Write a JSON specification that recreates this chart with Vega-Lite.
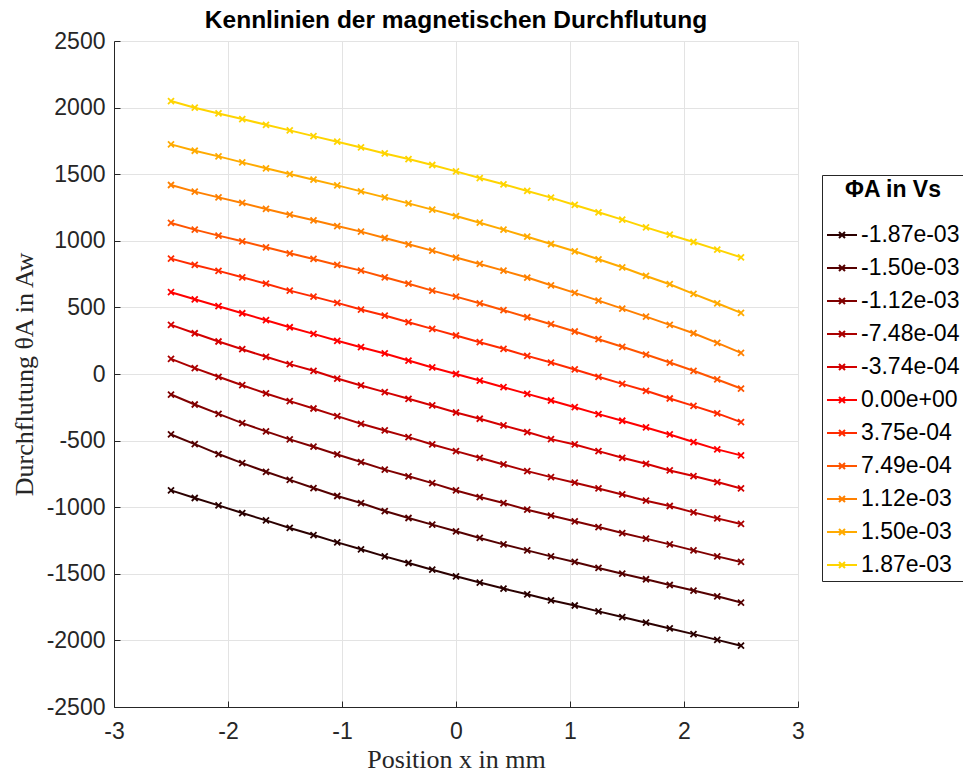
{
"$schema": "https://vega.github.io/schema/vega-lite/v6.json",
"width": 684, "height": 666,
"autosize": "none",
"padding": {"left": 114, "top": 41, "right": 165, "bottom": 68},
"background": "white",
"title": {"text": "Kennlinien der magnetischen Durchflutung", "font": "Liberation Sans", "fontSize": 24.5, "fontWeight": "bold", "color": "black", "anchor": "middle", "frame": "group", "offset": -3},
"config": {
  "view": {"stroke": null},
  "axis": {"gridColor": "#e3e3e3", "gridWidth": 1, "domainColor": "#262626", "domainWidth": 1, "tickColor": "#262626", "tickSize": -6, "labelFlush": false, "labelFont": "Liberation Sans", "labelFontSize": 23, "labelColor": "#262626", "labelExpr": "'' + datum.value", "titleFont": "Liberation Serif", "titleFontWeight": "normal", "titleColor": "#262626"}
},
"data": {"values": [
{"p":"-1.87e-03","x":-2.5,"y":-874},{"p":"-1.87e-03","x":-2.2917,"y":-931},{"p":"-1.87e-03","x":-2.0833,"y":-986},{"p":"-1.87e-03","x":-1.875,"y":-1044},{"p":"-1.87e-03","x":-1.6667,"y":-1099},{"p":"-1.87e-03","x":-1.4583,"y":-1156},{"p":"-1.87e-03","x":-1.25,"y":-1209},{"p":"-1.87e-03","x":-1.0417,"y":-1264},{"p":"-1.87e-03","x":-0.8333,"y":-1316},{"p":"-1.87e-03","x":-0.625,"y":-1369},{"p":"-1.87e-03","x":-0.4167,"y":-1419},{"p":"-1.87e-03","x":-0.2083,"y":-1469},{"p":"-1.87e-03","x":0,"y":-1519},{"p":"-1.87e-03","x":0.2083,"y":-1566},{"p":"-1.87e-03","x":0.4167,"y":-1611},{"p":"-1.87e-03","x":0.625,"y":-1654},{"p":"-1.87e-03","x":0.8333,"y":-1699},{"p":"-1.87e-03","x":1.0417,"y":-1738},{"p":"-1.87e-03","x":1.25,"y":-1782},{"p":"-1.87e-03","x":1.4583,"y":-1825},{"p":"-1.87e-03","x":1.6667,"y":-1867},{"p":"-1.87e-03","x":1.875,"y":-1910},{"p":"-1.87e-03","x":2.0833,"y":-1953},{"p":"-1.87e-03","x":2.2917,"y":-1996},{"p":"-1.87e-03","x":2.5,"y":-2040},
{"p":"-1.50e-03","x":-2.5,"y":-454},{"p":"-1.50e-03","x":-2.2917,"y":-526},{"p":"-1.50e-03","x":-2.0833,"y":-601},{"p":"-1.50e-03","x":-1.875,"y":-669},{"p":"-1.50e-03","x":-1.6667,"y":-734},{"p":"-1.50e-03","x":-1.4583,"y":-795},{"p":"-1.50e-03","x":-1.25,"y":-856},{"p":"-1.50e-03","x":-1.0417,"y":-916},{"p":"-1.50e-03","x":-0.8333,"y":-969},{"p":"-1.50e-03","x":-0.625,"y":-1029},{"p":"-1.50e-03","x":-0.4167,"y":-1081},{"p":"-1.50e-03","x":-0.2083,"y":-1131},{"p":"-1.50e-03","x":0,"y":-1181},{"p":"-1.50e-03","x":0.2083,"y":-1231},{"p":"-1.50e-03","x":0.4167,"y":-1279},{"p":"-1.50e-03","x":0.625,"y":-1324},{"p":"-1.50e-03","x":0.8333,"y":-1369},{"p":"-1.50e-03","x":1.0417,"y":-1411},{"p":"-1.50e-03","x":1.25,"y":-1456},{"p":"-1.50e-03","x":1.4583,"y":-1499},{"p":"-1.50e-03","x":1.6667,"y":-1541},{"p":"-1.50e-03","x":1.875,"y":-1584},{"p":"-1.50e-03","x":2.0833,"y":-1626},{"p":"-1.50e-03","x":2.2917,"y":-1669},{"p":"-1.50e-03","x":2.5,"y":-1716},
{"p":"-1.12e-03","x":-2.5,"y":-154},{"p":"-1.12e-03","x":-2.2917,"y":-229},{"p":"-1.12e-03","x":-2.0833,"y":-299},{"p":"-1.12e-03","x":-1.875,"y":-369},{"p":"-1.12e-03","x":-1.6667,"y":-431},{"p":"-1.12e-03","x":-1.4583,"y":-491},{"p":"-1.12e-03","x":-1.25,"y":-546},{"p":"-1.12e-03","x":-1.0417,"y":-604},{"p":"-1.12e-03","x":-0.8333,"y":-661},{"p":"-1.12e-03","x":-0.625,"y":-718},{"p":"-1.12e-03","x":-0.4167,"y":-768},{"p":"-1.12e-03","x":-0.2083,"y":-819},{"p":"-1.12e-03","x":0,"y":-874},{"p":"-1.12e-03","x":0.2083,"y":-924},{"p":"-1.12e-03","x":0.4167,"y":-969},{"p":"-1.12e-03","x":0.625,"y":-1019},{"p":"-1.12e-03","x":0.8333,"y":-1063},{"p":"-1.12e-03","x":1.0417,"y":-1106},{"p":"-1.12e-03","x":1.25,"y":-1149},{"p":"-1.12e-03","x":1.4583,"y":-1194},{"p":"-1.12e-03","x":1.6667,"y":-1236},{"p":"-1.12e-03","x":1.875,"y":-1279},{"p":"-1.12e-03","x":2.0833,"y":-1324},{"p":"-1.12e-03","x":2.2917,"y":-1369},{"p":"-1.12e-03","x":2.5,"y":-1411},
{"p":"-7.48e-04","x":-2.5,"y":114},{"p":"-7.48e-04","x":-2.2917,"y":44},{"p":"-7.48e-04","x":-2.0833,"y":-21},{"p":"-7.48e-04","x":-1.875,"y":-84},{"p":"-7.48e-04","x":-1.6667,"y":-146},{"p":"-7.48e-04","x":-1.4583,"y":-204},{"p":"-7.48e-04","x":-1.25,"y":-259},{"p":"-7.48e-04","x":-1.0417,"y":-316},{"p":"-7.48e-04","x":-0.8333,"y":-374},{"p":"-7.48e-04","x":-0.625,"y":-424},{"p":"-7.48e-04","x":-0.4167,"y":-474},{"p":"-7.48e-04","x":-0.2083,"y":-529},{"p":"-7.48e-04","x":0,"y":-579},{"p":"-7.48e-04","x":0.2083,"y":-629},{"p":"-7.48e-04","x":0.4167,"y":-679},{"p":"-7.48e-04","x":0.625,"y":-729},{"p":"-7.48e-04","x":0.8333,"y":-774},{"p":"-7.48e-04","x":1.0417,"y":-816},{"p":"-7.48e-04","x":1.25,"y":-859},{"p":"-7.48e-04","x":1.4583,"y":-904},{"p":"-7.48e-04","x":1.6667,"y":-951},{"p":"-7.48e-04","x":1.875,"y":-991},{"p":"-7.48e-04","x":2.0833,"y":-1039},{"p":"-7.48e-04","x":2.2917,"y":-1084},{"p":"-7.48e-04","x":2.5,"y":-1126},
{"p":"-3.74e-04","x":-2.5,"y":369},{"p":"-3.74e-04","x":-2.2917,"y":306},{"p":"-3.74e-04","x":-2.0833,"y":244},{"p":"-3.74e-04","x":-1.875,"y":186},{"p":"-3.74e-04","x":-1.6667,"y":129},{"p":"-3.74e-04","x":-1.4583,"y":74},{"p":"-3.74e-04","x":-1.25,"y":24},{"p":"-3.74e-04","x":-1.0417,"y":-34},{"p":"-3.74e-04","x":-0.8333,"y":-86},{"p":"-3.74e-04","x":-0.625,"y":-136},{"p":"-3.74e-04","x":-0.4167,"y":-186},{"p":"-3.74e-04","x":-0.2083,"y":-236},{"p":"-3.74e-04","x":0,"y":-289},{"p":"-3.74e-04","x":0.2083,"y":-336},{"p":"-3.74e-04","x":0.4167,"y":-386},{"p":"-3.74e-04","x":0.625,"y":-436},{"p":"-3.74e-04","x":0.8333,"y":-489},{"p":"-3.74e-04","x":1.0417,"y":-529},{"p":"-3.74e-04","x":1.25,"y":-579},{"p":"-3.74e-04","x":1.4583,"y":-629},{"p":"-3.74e-04","x":1.6667,"y":-674},{"p":"-3.74e-04","x":1.875,"y":-724},{"p":"-3.74e-04","x":2.0833,"y":-766},{"p":"-3.74e-04","x":2.2917,"y":-811},{"p":"-3.74e-04","x":2.5,"y":-859},
{"p":"0.00e+00","x":-2.5,"y":614},{"p":"0.00e+00","x":-2.2917,"y":561},{"p":"0.00e+00","x":-2.0833,"y":509},{"p":"0.00e+00","x":-1.875,"y":456},{"p":"0.00e+00","x":-1.6667,"y":404},{"p":"0.00e+00","x":-1.4583,"y":351},{"p":"0.00e+00","x":-1.25,"y":301},{"p":"0.00e+00","x":-1.0417,"y":249},{"p":"0.00e+00","x":-0.8333,"y":201},{"p":"0.00e+00","x":-0.625,"y":154},{"p":"0.00e+00","x":-0.4167,"y":101},{"p":"0.00e+00","x":-0.2083,"y":49},{"p":"0.00e+00","x":0,"y":0},{"p":"0.00e+00","x":0.2083,"y":-49},{"p":"0.00e+00","x":0.4167,"y":-99},{"p":"0.00e+00","x":0.625,"y":-149},{"p":"0.00e+00","x":0.8333,"y":-199},{"p":"0.00e+00","x":1.0417,"y":-249},{"p":"0.00e+00","x":1.25,"y":-301},{"p":"0.00e+00","x":1.4583,"y":-351},{"p":"0.00e+00","x":1.6667,"y":-401},{"p":"0.00e+00","x":1.875,"y":-454},{"p":"0.00e+00","x":2.0833,"y":-511},{"p":"0.00e+00","x":2.2917,"y":-566},{"p":"0.00e+00","x":2.5,"y":-611},
{"p":"3.75e-04","x":-2.5,"y":866},{"p":"3.75e-04","x":-2.2917,"y":819},{"p":"3.75e-04","x":-2.0833,"y":774},{"p":"3.75e-04","x":-1.875,"y":726},{"p":"3.75e-04","x":-1.6667,"y":678},{"p":"3.75e-04","x":-1.4583,"y":626},{"p":"3.75e-04","x":-1.25,"y":581},{"p":"3.75e-04","x":-1.0417,"y":534},{"p":"3.75e-04","x":-0.8333,"y":484},{"p":"3.75e-04","x":-0.625,"y":439},{"p":"3.75e-04","x":-0.4167,"y":389},{"p":"3.75e-04","x":-0.2083,"y":339},{"p":"3.75e-04","x":0,"y":289},{"p":"3.75e-04","x":0.2083,"y":239},{"p":"3.75e-04","x":0.4167,"y":189},{"p":"3.75e-04","x":0.625,"y":136},{"p":"3.75e-04","x":0.8333,"y":86},{"p":"3.75e-04","x":1.0417,"y":34},{"p":"3.75e-04","x":1.25,"y":-21},{"p":"3.75e-04","x":1.4583,"y":-74},{"p":"3.75e-04","x":1.6667,"y":-126},{"p":"3.75e-04","x":1.875,"y":-184},{"p":"3.75e-04","x":2.0833,"y":-239},{"p":"3.75e-04","x":2.2917,"y":-296},{"p":"3.75e-04","x":2.5,"y":-361},
{"p":"7.49e-04","x":-2.5,"y":1134},{"p":"7.49e-04","x":-2.2917,"y":1084},{"p":"7.49e-04","x":-2.0833,"y":1039},{"p":"7.49e-04","x":-1.875,"y":996},{"p":"7.49e-04","x":-1.6667,"y":951},{"p":"7.49e-04","x":-1.4583,"y":906},{"p":"7.49e-04","x":-1.25,"y":864},{"p":"7.49e-04","x":-1.0417,"y":819},{"p":"7.49e-04","x":-0.8333,"y":776},{"p":"7.49e-04","x":-0.625,"y":726},{"p":"7.49e-04","x":-0.4167,"y":678},{"p":"7.49e-04","x":-0.2083,"y":626},{"p":"7.49e-04","x":0,"y":581},{"p":"7.49e-04","x":0.2083,"y":531},{"p":"7.49e-04","x":0.4167,"y":479},{"p":"7.49e-04","x":0.625,"y":426},{"p":"7.49e-04","x":0.8333,"y":374},{"p":"7.49e-04","x":1.0417,"y":319},{"p":"7.49e-04","x":1.25,"y":261},{"p":"7.49e-04","x":1.4583,"y":204},{"p":"7.49e-04","x":1.6667,"y":146},{"p":"7.49e-04","x":1.875,"y":86},{"p":"7.49e-04","x":2.0833,"y":24},{"p":"7.49e-04","x":2.2917,"y":-41},{"p":"7.49e-04","x":2.5,"y":-109},
{"p":"1.12e-03","x":-2.5,"y":1419},{"p":"1.12e-03","x":-2.2917,"y":1369},{"p":"1.12e-03","x":-2.0833,"y":1326},{"p":"1.12e-03","x":-1.875,"y":1284},{"p":"1.12e-03","x":-1.6667,"y":1239},{"p":"1.12e-03","x":-1.4583,"y":1196},{"p":"1.12e-03","x":-1.25,"y":1154},{"p":"1.12e-03","x":-1.0417,"y":1111},{"p":"1.12e-03","x":-0.8333,"y":1069},{"p":"1.12e-03","x":-0.625,"y":1021},{"p":"1.12e-03","x":-0.4167,"y":974},{"p":"1.12e-03","x":-0.2083,"y":926},{"p":"1.12e-03","x":0,"y":874},{"p":"1.12e-03","x":0.2083,"y":826},{"p":"1.12e-03","x":0.4167,"y":776},{"p":"1.12e-03","x":0.625,"y":724},{"p":"1.12e-03","x":0.8333,"y":666},{"p":"1.12e-03","x":1.0417,"y":609},{"p":"1.12e-03","x":1.25,"y":551},{"p":"1.12e-03","x":1.4583,"y":491},{"p":"1.12e-03","x":1.6667,"y":431},{"p":"1.12e-03","x":1.875,"y":369},{"p":"1.12e-03","x":2.0833,"y":306},{"p":"1.12e-03","x":2.2917,"y":234},{"p":"1.12e-03","x":2.5,"y":159},
{"p":"1.50e-03","x":-2.5,"y":1724},{"p":"1.50e-03","x":-2.2917,"y":1676},{"p":"1.50e-03","x":-2.0833,"y":1634},{"p":"1.50e-03","x":-1.875,"y":1589},{"p":"1.50e-03","x":-1.6667,"y":1544},{"p":"1.50e-03","x":-1.4583,"y":1501},{"p":"1.50e-03","x":-1.25,"y":1459},{"p":"1.50e-03","x":-1.0417,"y":1416},{"p":"1.50e-03","x":-0.8333,"y":1371},{"p":"1.50e-03","x":-0.625,"y":1326},{"p":"1.50e-03","x":-0.4167,"y":1281},{"p":"1.50e-03","x":-0.2083,"y":1234},{"p":"1.50e-03","x":0,"y":1186},{"p":"1.50e-03","x":0.2083,"y":1136},{"p":"1.50e-03","x":0.4167,"y":1084},{"p":"1.50e-03","x":0.625,"y":1031},{"p":"1.50e-03","x":0.8333,"y":976},{"p":"1.50e-03","x":1.0417,"y":921},{"p":"1.50e-03","x":1.25,"y":861},{"p":"1.50e-03","x":1.4583,"y":801},{"p":"1.50e-03","x":1.6667,"y":736},{"p":"1.50e-03","x":1.875,"y":674},{"p":"1.50e-03","x":2.0833,"y":601},{"p":"1.50e-03","x":2.2917,"y":531},{"p":"1.50e-03","x":2.5,"y":459},
{"p":"1.87e-03","x":-2.5,"y":2049},{"p":"1.87e-03","x":-2.2917,"y":1999},{"p":"1.87e-03","x":-2.0833,"y":1956},{"p":"1.87e-03","x":-1.875,"y":1914},{"p":"1.87e-03","x":-1.6667,"y":1871},{"p":"1.87e-03","x":-1.4583,"y":1829},{"p":"1.87e-03","x":-1.25,"y":1786},{"p":"1.87e-03","x":-1.0417,"y":1744},{"p":"1.87e-03","x":-0.8333,"y":1701},{"p":"1.87e-03","x":-0.625,"y":1656},{"p":"1.87e-03","x":-0.4167,"y":1614},{"p":"1.87e-03","x":-0.2083,"y":1569},{"p":"1.87e-03","x":0,"y":1521},{"p":"1.87e-03","x":0.2083,"y":1471},{"p":"1.87e-03","x":0.4167,"y":1424},{"p":"1.87e-03","x":0.625,"y":1374},{"p":"1.87e-03","x":0.8333,"y":1324},{"p":"1.87e-03","x":1.0417,"y":1269},{"p":"1.87e-03","x":1.25,"y":1214},{"p":"1.87e-03","x":1.4583,"y":1159},{"p":"1.87e-03","x":1.6667,"y":1101},{"p":"1.87e-03","x":1.875,"y":1046},{"p":"1.87e-03","x":2.0833,"y":991},{"p":"1.87e-03","x":2.2917,"y":934},{"p":"1.87e-03","x":2.5,"y":876}
]},
"encoding": {
  "x": {"field": "x", "type": "quantitative", "scale": {"domain": [-3, 3], "nice": false, "zero": false}, "axis": {"values": [-3, -2, -1, 0, 1, 2, 3], "title": "Position x in mm", "titleFontSize": 26, "titlePadding": 3, "labelPadding": 19}},
  "y": {"field": "y", "type": "quantitative", "scale": {"domain": [-2500, 2500], "nice": false}, "axis": {"values": [-2500, -2000, -1500, -1000, -500, 0, 500, 1000, 1500, 2000, 2500], "title": "Durchflutung θA in Aw", "titleFontSize": 26, "titlePadding": 9, "labelPadding": 15}},
  "color": {"field": "p", "type": "nominal",
    "scale": {"domain": ["-1.87e-03", "-1.50e-03", "-1.12e-03", "-7.48e-04", "-3.74e-04", "0.00e+00", "3.75e-04", "7.49e-04", "1.12e-03", "1.50e-03", "1.87e-03"],
              "range": ["#2b0000", "#550000", "#800000", "#aa0000", "#d40000", "#ff0000", "#ff2b00", "#ff5500", "#ff8000", "#ffaa00", "#ffd400"]},
    "legend": {"orient": "none", "legendX": 708, "legendY": 134, "title": "ΦA in Vs", "titleFont": "Liberation Sans", "titleFontSize": 23, "titleFontWeight": "bold", "titleAnchor": "middle", "titleColor": "black", "titlePadding": 17, "labelFont": "Liberation Sans", "labelFontSize": 23, "labelColor": "black", "labelOffset": 3, "strokeColor": "#262626", "fillColor": "white", "padding": 4, "rowPadding": 5, "symbolType": "M-1,0H1M-0.2,-0.2L0.2,0.2M-0.2,0.2L0.2,-0.2", "symbolSize": 900, "symbolStrokeWidth": 2, "symbolFillColor": "transparent"}}
},
"layer": [
  {"mark": {"type": "line", "strokeWidth": 2}},
  {"mark": {"type": "point", "shape": "M-1,-1L1,1M-1,1L1,-1", "filled": false, "strokeWidth": 1.8, "size": 36, "opacity": 1}}
]
}
